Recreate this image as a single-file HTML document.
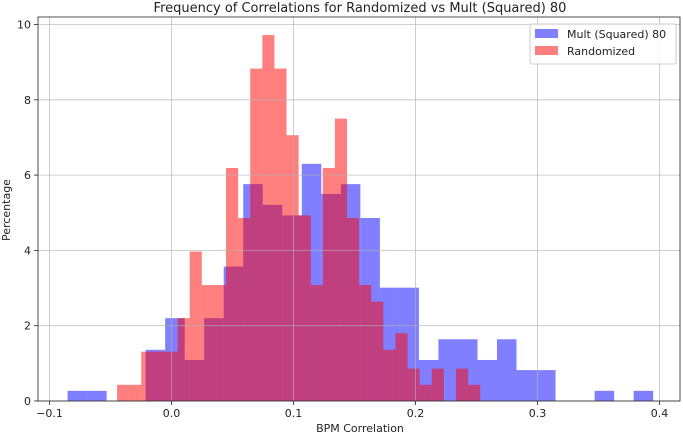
<!DOCTYPE html>
<html><head><meta charset="utf-8"><style>
body{margin:0;background:#fff;}
svg text{font-family:"DejaVu Sans","Liberation Sans",sans-serif;fill:#222;}
</style></head><body>
<svg width="683" height="435" xmlns="http://www.w3.org/2000/svg">
<g id="bars"></g>
<g id="grid"></g>
<g id="axes"></g>
<text x="360" y="12" text-anchor="middle" font-size="13">Frequency of Correlations for Randomized vs Mult (Squared) 80</text>
<text x="360" y="432" text-anchor="middle" font-size="11">BPM Correlation</text>
<text transform="translate(10,210) rotate(-90)" text-anchor="middle" font-size="11">Percentage</text>
<g>
<rect x="530" y="24" width="146" height="40" rx="2" fill="#fff" fill-opacity="0.8" stroke="#ccc"/>
<rect x="535" y="29" width="23" height="9" fill="rgba(0,0,255,0.5)"/>
<text x="567" y="38" font-size="11">Mult (Squared) 80</text>
<rect x="535" y="46" width="23" height="9" fill="rgba(255,0,0,0.5)"/>
<text x="567" y="55" font-size="11">Randomized</text>
</g>
</svg>
<script>
const blueStart = -0.0852, blueWidth = 0.016;
const blueValues = [0.27,0.27,0,0,1.36,2.2,1.09,2.2,3.57,5.76,5.21,4.93,6.3,5.5,5.76,4.86,3.01,3.01,1.09,1.64,1.64,1.09,1.64,0.82,0.82,0,0,0.27,0,0.27];
const redStart = -0.0446, redWidth = 0.00992;
const redValues = [0.43,0.43,1.31,1.31,1.31,2.2,3.97,3.08,3.08,6.19,4.86,8.83,9.72,8.83,7.06,4.93,3.08,6.19,7.5,4.86,3.08,2.64,1.36,1.8,0.86,0.43,0.86,0,0.86,0.43];
const xTicks = [-0.1,0.0,0.1,0.2,0.3,0.4];
const xTickLabels = ["\u22120.1","0.0","0.1","0.2","0.3","0.4"];
const yTicks = [0,2,4,6,8,10];

const L=38,R=680,T=17,B=401;
const sx=v=>171.5+v*1220;
const sy=v=>B-v*37.65;
const NS="http://www.w3.org/2000/svg";
function mk(tag,attrs,parent){const e=document.createElementNS(NS,tag);for(const k in attrs)e.setAttribute(k,attrs[k]);parent.appendChild(e);return e;}
const grid=document.getElementById('grid'),bars=document.getElementById('bars'),axes=document.getElementById('axes');
xTicks.forEach((t,i)=>{
  const x=sx(t);
  const g=mk('line',{x1:x,x2:x,y1:T,y2:B,stroke:'#b0b0b0','stroke-opacity':0.8,'stroke-width':0.8},grid);
  
  
  mk('line',{x1:x,x2:x,y1:B,y2:B+4,stroke:'#222','stroke-width':0.8},axes);
  const tx=mk('text',{x:x,y:B+16,'text-anchor':'middle','font-size':11},axes);
  tx.textContent=xTickLabels[i];
  
  
});
yTicks.forEach(t=>{
  const y=sy(t);
  const g=mk('line',{x1:L,x2:R,y1:y,y2:y,stroke:'#b0b0b0','stroke-opacity':0.8,'stroke-width':0.8},grid);
  
  
  mk('line',{x1:L-4,x2:L,y1:y,y2:y,stroke:'#222','stroke-width':0.8},axes);
  const tx=mk('text',{x:L-7,y:y+4,'text-anchor':'end','font-size':11},axes);
  tx.textContent=String(t);
  
  
});
blueValues.forEach((v,i)=>{
  if(v<=0)return;
  const x0=sx(blueStart+i*blueWidth),x1=sx(blueStart+(i+1)*blueWidth);
  const r=mk('rect',{x:x0,y:sy(v),width:x1-x0,height:B-sy(v),fill:'rgba(0,0,255,0.5)'},bars);
  
  
});
redValues.forEach((v,i)=>{
  if(v<=0)return;
  const x0=sx(redStart+i*redWidth),x1=sx(redStart+(i+1)*redWidth);
  const r=mk('rect',{x:x0,y:sy(v),width:x1-x0,height:B-sy(v),fill:'rgba(255,0,0,0.5)'},bars);
  
  
});
const f=mk('rect',{x:L,y:T,width:R-L,height:B-T,fill:'none',stroke:'#222','stroke-width':0.8},axes);


</script>
</body></html>
